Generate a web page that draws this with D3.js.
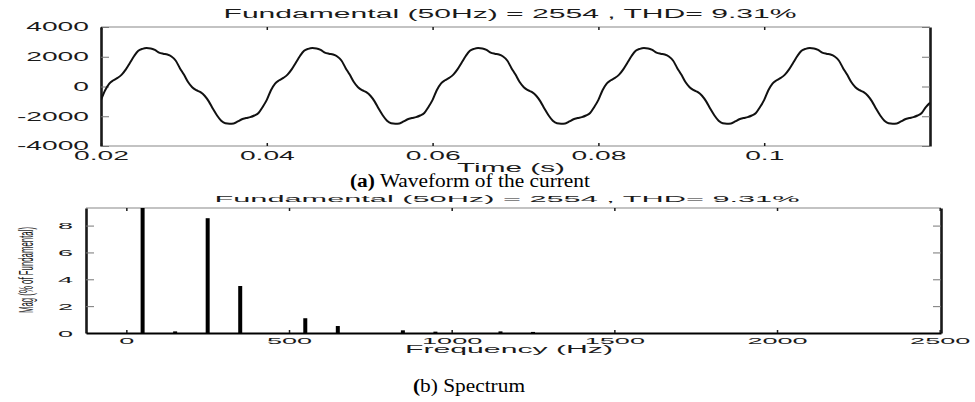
<!DOCTYPE html>
<html><head><meta charset="utf-8">
<script src="https://cdn.jsdelivr.net/npm/d3@7"></script>
<style>body{margin:0;background:#fff} svg{display:block}</style>
</head><body><svg id="c" width="975" height="402"></svg>
<script>
// ---------- data ----------
const waveTitle = "Fundamental (50Hz) = 2554 , THD= 9.31%";
const spectrumTitle = "Fundamental (50Hz) = 2554 , THD= 9.31%";
const waveStart = 0.02, waveStep = 0.0005;   // sampling grid of the readings
const waveValues = [
  -900,-250,200,420,580,800,1150,1600,2050,2400,2530,2580,2560,2460,2280,2200,2150,2020,1750,1250,800,300,-50,-250,-380,-620,-1000,-1500,-1950,-2300,-2470,-2500,-2480,-2350,-2200,-2120,-2060,-1950,-1780,-1380,
  -900,-250,200,420,580,800,1150,1600,2050,2400,2530,2580,2560,2460,2280,2200,2150,2020,1750,1250,800,300,-50,-250,-380,-620,-1000,-1500,-1950,-2300,-2470,-2500,-2480,-2350,-2200,-2120,-2060,-1950,-1780,-1380,
  -900,-250,200,420,580,800,1150,1600,2050,2400,2530,2580,2560,2460,2280,2200,2150,2020,1750,1250,800,300,-50,-250,-380,-620,-1000,-1500,-1950,-2300,-2470,-2500,-2480,-2350,-2200,-2120,-2060,-1950,-1780,-1380,
  -900,-250,200,420,580,800,1150,1600,2050,2400,2530,2580,2560,2460,2280,2200,2150,2020,1750,1250,800,300,-50,-250,-380,-620,-1000,-1500,-1950,-2300,-2470,-2500,-2480,-2350,-2200,-2120,-2060,-1950,-1780,-1380,
  -900,-250,200,420,580,800,1150,1600,2050,2400,2530,2580,2560,2460,2280,2200,2150,2020,1750,1250,800,300,-50,-250,-380,-620,-1000,-1500,-1950,-2300,-2470,-2500,-2480,-2350,-2200,-2120,-2060,-1950,-1780,-1380,
  -1100
];
const timeTicks = [0.02, 0.04, 0.06, 0.08, 0.1];
const timeTickLabels = ["0.02", "0.04", "0.06", "0.08", "0.1"];
const currentTicks = [-4000, -2000, 0, 2000, 4000];
const currentTickLabels = ["-4000", "-2000", "0", "2000", "4000"];

const harmonicFreqs = [50, 150, 250, 350, 550, 650, 850, 950, 1150, 1250];
const harmonicMags  = [100, 0.12, 8.55, 3.5, 1.1, 0.52, 0.2, 0.1, 0.12, 0.08];
const freqTicks = [0, 500, 1000, 1500, 2000, 2500];
const freqTickLabels = ["0", "500", "1000", "1500", "2000", "2500"];
const magTicks = [0, 2, 4, 6, 8];
const magTickLabels = ["0", "2", "4", "6", "8"];

// ---------- drawing ----------
const svg = d3.select("#c");
const SANS = "'Liberation Sans', Arial, sans-serif";
const SERIF = "'Liberation Serif', 'Times New Roman', serif";
const INK = "#1a1a1a";

function stretch(sel, factor) {
  sel.each(function () {
    const w = this.getComputedTextLength();
    d3.select(this).attr("textLength", w * factor).attr("lengthAdjust", "spacingAndGlyphs");
  });
}

// ===== Top: waveform =====
const xT = d3.scaleLinear([0.02, 0.12], [101, 930]);
const yT = d3.scaleLinear([-4000, 4000], [146, 27]);
const gT = svg.append("g");

svg.append("clipPath").attr("id", "clipT").append("rect")
  .attr("x", xT.range()[0]).attr("y", yT.range()[1])
  .attr("width", xT.range()[1] - xT.range()[0]).attr("height", yT.range()[0] - yT.range()[1]);

gT.append("line").attr("x1", xT.range()[0]).attr("x2", xT.range()[1]).attr("y1", yT.range()[1]).attr("y2", yT.range()[1]).attr("stroke", "#888").attr("stroke-width", 1.2);
gT.append("line").attr("x1", xT.range()[0]).attr("x2", xT.range()[1]).attr("y1", yT.range()[0]).attr("y2", yT.range()[0]).attr("stroke", "#888").attr("stroke-width", 1.2);

const axL = gT.append("g").attr("transform", `translate(${xT.range()[0]},0)`)
  .call(d3.axisLeft(yT).tickValues(currentTicks).tickFormat((d, i) => currentTickLabels[i]).tickSize(-8).tickSizeOuter(0).tickPadding(12));
axL.select(".domain").attr("stroke", INK).attr("stroke-width", 2.6);
axL.selectAll(".tick line").attr("stroke", "#777").attr("stroke-width", 1);
axL.selectAll(".tick text").attr("font-family", SANS).attr("font-size", 12).attr("fill", INK).call(stretch, 2.35);

const axR = gT.append("g").attr("transform", `translate(${xT.range()[1]},0)`)
  .call(d3.axisRight(yT).tickValues(currentTicks).tickFormat("").tickSize(-8).tickSizeOuter(0));
axR.select(".domain").attr("stroke", INK).attr("stroke-width", 2.6);
axR.selectAll(".tick line").attr("stroke", "#777").attr("stroke-width", 1);

const axB = gT.append("g").attr("transform", `translate(0,${yT.range()[0]})`)
  .call(d3.axisBottom(xT).tickValues(timeTicks).tickFormat((d, i) => timeTickLabels[i]).tickSize(-3).tickSizeOuter(0).tickPadding(5));
axB.select(".domain").remove();
axB.selectAll(".tick line").attr("stroke", INK).attr("stroke-width", 1.5);
axB.selectAll(".tick text").attr("font-family", SANS).attr("font-size", 12).attr("fill", INK).call(stretch, 2.35);

const axTop = gT.append("g").attr("transform", `translate(0,${yT.range()[1]})`)
  .call(d3.axisTop(xT).tickValues(timeTicks).tickFormat("").tickSize(-3).tickSizeOuter(0));
axTop.select(".domain").remove();
axTop.selectAll(".tick line").attr("stroke", INK).attr("stroke-width", 1.5);

const line = d3.line().x((d, i) => xT(waveStart + i * waveStep)).y(d => yT(d)).curve(d3.curveMonotoneX);
gT.append("path").datum(waveValues).attr("clip-path", "url(#clipT)")
  .attr("d", line).attr("fill", "none").attr("stroke", "#111").attr("stroke-width", 2);

gT.append("text").attr("x", 510).attr("y", 18).attr("text-anchor", "middle")
  .attr("font-family", SANS).attr("font-size", 12).attr("fill", INK)
  .attr("textLength", 573).attr("lengthAdjust", "spacingAndGlyphs").text(waveTitle);
gT.append("text").attr("x", 511).attr("y", 172).attr("text-anchor", "middle")
  .attr("font-family", SANS).attr("font-size", 12.5).attr("fill", INK)
  .attr("textLength", 108).attr("lengthAdjust", "spacingAndGlyphs").text("Time (s)");

const capA = svg.append("text").attr("x", 470).attr("y", 187).attr("text-anchor", "middle")
  .attr("font-family", SERIF).attr("font-size", 18).attr("fill", "#000")
  .attr("textLength", 240).attr("lengthAdjust", "spacingAndGlyphs");
capA.append("tspan").attr("font-weight", "bold").text("(a)");
capA.append("tspan").text(" Waveform of the current");

// ===== Bottom: spectrum =====
const xF = d3.scaleLinear([-124, 2504], [86, 941]);
const yF = d3.scaleLinear([0, 9.31], [333, 208]);
const gF = svg.append("g");

svg.append("clipPath").attr("id", "clipF").append("rect")
  .attr("x", xF.range()[0]).attr("y", yF.range()[1])
  .attr("width", xF.range()[1] - xF.range()[0]).attr("height", yF.range()[0] - yF.range()[1]);

gF.append("line").attr("x1", xF.range()[0]).attr("x2", xF.range()[1]).attr("y1", yF.range()[1]).attr("y2", yF.range()[1]).attr("stroke", "#888").attr("stroke-width", 1.2);

gF.append("g").attr("clip-path", "url(#clipF)").selectAll("rect")
  .data(harmonicFreqs.map((f, i) => ({ f, m: harmonicMags[i] })))
  .join("rect")
  .attr("x", d => xF(d.f) - 2).attr("width", 4)
  .attr("y", d => yF(Math.min(d.m, yF.domain()[1]))).attr("height", d => yF(0) - yF(Math.min(d.m, yF.domain()[1])))
  .attr("fill", "#000");

const fL = gF.append("g").attr("transform", `translate(${xF.range()[0]},0)`)
  .call(d3.axisLeft(yF).tickValues(magTicks).tickFormat((d, i) => magTickLabels[i]).tickSize(-8).tickSizeOuter(0).tickPadding(13));
fL.select(".domain").attr("stroke", INK).attr("stroke-width", 2.6);
fL.selectAll(".tick line").attr("stroke", "#777").attr("stroke-width", 1);
fL.selectAll(".tick text").attr("font-family", SANS).attr("font-size", 9.5).attr("fill", INK).call(stretch, 2.85);

const fR = gF.append("g").attr("transform", `translate(${xF.range()[1]},0)`)
  .call(d3.axisRight(yF).tickValues(magTicks).tickFormat("").tickSize(-8).tickSizeOuter(0));
fR.select(".domain").attr("stroke", INK).attr("stroke-width", 2.6);
fR.selectAll(".tick line").attr("stroke", "#777").attr("stroke-width", 1);

const fB = gF.append("g").attr("transform", `translate(0,${yF.range()[0]})`)
  .call(d3.axisBottom(xF).tickValues(freqTicks).tickFormat((d, i) => freqTickLabels[i]).tickSize(-3).tickSizeOuter(0).tickPadding(4));
fB.select(".domain").attr("stroke", "#000").attr("stroke-width", 1.8);
fB.selectAll(".tick line").attr("stroke", INK).attr("stroke-width", 1.5);
fB.selectAll(".tick text").attr("font-family", SANS).attr("font-size", 9.5).attr("fill", INK).call(stretch, 2.85);

const fT = gF.append("g").attr("transform", `translate(0,${yF.range()[1]})`)
  .call(d3.axisTop(xF).tickValues(freqTicks).tickFormat("").tickSize(-3).tickSizeOuter(0));
fT.select(".domain").remove();
fT.selectAll(".tick line").attr("stroke", INK).attr("stroke-width", 1.5);

gF.append("text").attr("x", 507).attr("y", 202).attr("text-anchor", "middle")
  .attr("font-family", SANS).attr("font-size", 9.5).attr("fill", INK)
  .attr("textLength", 585).attr("lengthAdjust", "spacingAndGlyphs").text(spectrumTitle);
gF.append("text").attr("x", 509).attr("y", 353).attr("text-anchor", "middle")
  .attr("font-family", SANS).attr("font-size", 10).attr("fill", INK)
  .attr("textLength", 208).attr("lengthAdjust", "spacingAndGlyphs").text("Frequency (Hz)");
gF.append("text").attr("transform", "translate(33,270) rotate(-90)").attr("text-anchor", "middle")
  .attr("font-family", SANS).attr("font-size", 21).attr("fill", INK)
  .attr("textLength", 86).attr("lengthAdjust", "spacingAndGlyphs").text("Mag (% of Fundamental)");

const capB = svg.append("text").attr("x", 469).attr("y", 392).attr("text-anchor", "middle")
  .attr("font-family", SERIF).attr("font-size", 18).attr("fill", "#000")
  .attr("textLength", 112).attr("lengthAdjust", "spacingAndGlyphs");
capB.append("tspan").attr("font-weight", "bold").text("(");
capB.append("tspan").text("b) Spectrum");
</script>
</body></html>
